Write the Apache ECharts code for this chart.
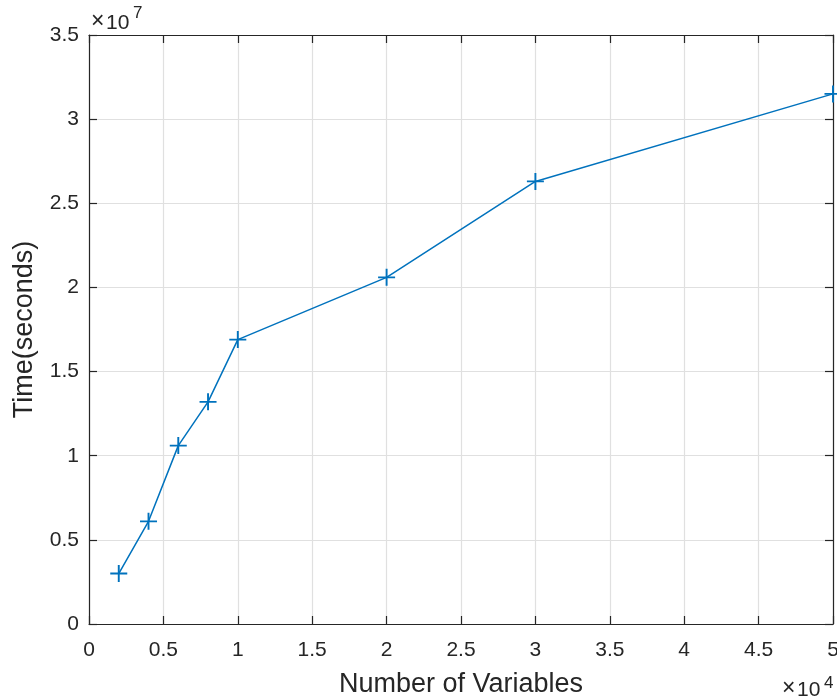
<!DOCTYPE html>
<html>
<head>
<meta charset="utf-8">
<script src="https://cdn.jsdelivr.net/npm/echarts@6/dist/echarts.min.js"></script>
<style>
  html, body { margin: 0; padding: 0; background: #fff; }
  #chart { width: 837px; height: 700px; }
</style>
</head>
<body>
<div id="chart"></div>
<script>
// Number of variables vs. run time
const variables = [2000, 4000, 6000, 8000, 10000, 20000, 30000, 50000];
const timeSeconds = [3.0e6, 6.1e6, 10.6e6, 13.2e6, 16.9e6, 20.6e6, 26.3e6, 31.5e6];
const xTickScale = 1e4;   // shown as ×10^4
const yTickScale = 1e7;   // shown as ×10^7

const axisColor = '#262626';
const gridColor = '#e0e0e0';
const lineColor = '#0072BD';
const fontFamily = '"Liberation Sans", Arial, Helvetica, sans-serif';

const fmt = (v, s) => String(Math.round(v / s * 100) / 100);

const chart = echarts.init(document.getElementById('chart'));

const baseAxis = {
  axisLine: { show: true, onZero: false, lineStyle: { color: axisColor, width: 1.2 } },
  axisTick: { show: true, inside: true, length: 8, lineStyle: { color: axisColor, width: 1.2 } },
  splitLine: { show: false },
};

// exponent label pieces: "×", "10" and the raised power
function exponentLabel(x, baseY, supY, power) {
  const t = (px, py, text, size) => ({
    type: 'text', x: px, y: py, silent: true,
    style: { text, fontSize: size, fontFamily, fill: axisColor, align: 'left', verticalAlign: 'middle' },
  });
  return [
    t(x, baseY - 1, '×', 23),
    t(x + 15, baseY, '10', 21),
    t(x + 42, supY, power, 17),
  ];
}

chart.setOption({
  animation: false,
  backgroundColor: '#ffffff',
  grid: { left: 89, right: 4, top: 35, bottom: 76, containLabel: false, outerBoundsMode: 'none' },
  xAxis: [
    Object.assign({}, baseAxis, {
      type: 'value', min: 0, max: 50000, interval: 5000, position: 'bottom',
      name: 'Number of Variables', nameLocation: 'middle', nameGap: 47,
      nameTextStyle: { color: axisColor, fontSize: 27, fontFamily },
      axisLabel: { color: axisColor, fontSize: 21, fontFamily, margin: 16,
        formatter: v => fmt(v, xTickScale) },
      splitLine: { show: true, lineStyle: { color: gridColor, width: 1.2 } },
    }),
    Object.assign({}, baseAxis, {
      type: 'value', min: 0, max: 50000, interval: 5000, position: 'top',
      axisLabel: { show: false },
    }),
  ],
  yAxis: [
    Object.assign({}, baseAxis, {
      type: 'value', min: 0, max: 35000000, interval: 5000000, position: 'left',
      name: 'Time(seconds)', nameLocation: 'middle', nameGap: 51, nameRotate: 90,
      nameTextStyle: { color: axisColor, fontSize: 27, fontFamily },
      axisLabel: { color: axisColor, fontSize: 21, fontFamily, margin: 10,
        formatter: v => fmt(v, yTickScale) },
      splitLine: { show: true, lineStyle: { color: gridColor, width: 1.2 } },
    }),
    Object.assign({}, baseAxis, {
      type: 'value', min: 0, max: 35000000, interval: 5000000, position: 'right',
      axisLabel: { show: false },
    }),
  ],
  graphic: [
    ...exponentLabel(91, 23, 13, '7'),
    ...exponentLabel(782, 690, 683, '4'),
  ],
  series: [{
    type: 'line',
    xAxisIndex: 0, yAxisIndex: 0,
    data: variables.map((x, i) => [x, timeSeconds[i]]),
    clip: false,
    lineStyle: { color: lineColor, width: 1.5 },
    symbol: 'path://M7.1,0 H8.9 V7.1 H16 V8.9 H8.9 V16 H7.1 V8.9 H0 V7.1 H7.1 Z',
    symbolSize: 17,
    showAllSymbol: true,
    itemStyle: { color: lineColor },
    emphasis: { disabled: true },
  }],
});
</script>
</body>
</html>
